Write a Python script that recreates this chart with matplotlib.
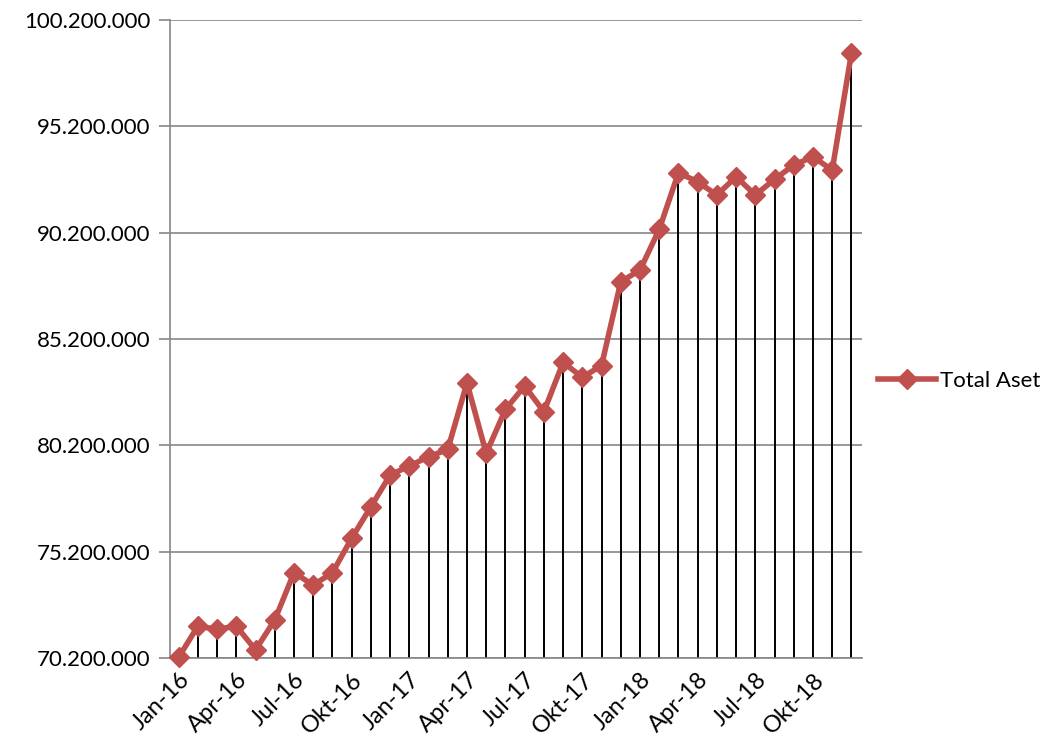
import numpy as np
import matplotlib.pyplot as plt

plt.rcParams['font.family'] = ['Lato', 'DejaVu Sans']

# monthly total assets, Jan-16 .. Dec-18 (in rupiah)
months = ['Jan-16', 'Feb-16', 'Mar-16', 'Apr-16', 'Mei-16', 'Jun-16',
          'Jul-16', 'Agu-16', 'Sep-16', 'Okt-16', 'Nov-16', 'Des-16',
          'Jan-17', 'Feb-17', 'Mar-17', 'Apr-17', 'Mei-17', 'Jun-17',
          'Jul-17', 'Agu-17', 'Sep-17', 'Okt-17', 'Nov-17', 'Des-17',
          'Jan-18', 'Feb-18', 'Mar-18', 'Apr-18', 'Mei-18', 'Jun-18',
          'Jul-18', 'Agu-18', 'Sep-18', 'Okt-18', 'Nov-18', 'Des-18']
total_aset = [70.23, 71.70, 71.55, 71.70, 70.58, 71.99,
              74.21, 73.63, 74.21, 75.83, 77.31, 78.80,
              79.23, 79.66, 80.01, 83.14, 79.82, 81.89,
              82.99, 81.78, 84.10, 83.40, 83.95, 87.89,
              88.44, 90.35, 93.02, 92.59, 91.97, 92.83,
              91.97, 92.71, 93.38, 93.77, 93.14, 98.64]
total_aset = [v * 1e6 for v in total_aset]

y_ticks = [70200000, 75200000, 80200000, 85200000, 90200000, 95200000, 100200000]
label_idx = [0, 3, 6, 9, 12, 15, 18, 21, 24, 27, 30, 33]

fig = plt.figure(figsize=(10.48, 7.45), dpi=100)
ax = fig.add_axes([170 / 1048, 87 / 745, 692 / 1048, 638 / 745])

x = np.arange(len(total_aset))
ymin = y_ticks[0]

# drop lines
ax.vlines(x, ymin, total_aset, color='black', linewidth=1.4, zorder=2)

ax.plot(x, total_aset, color='#C0504D', linewidth=4, marker='D',
        markersize=10, label='Total Aset', zorder=3, clip_on=False)

ax.set_ylim(y_ticks[0], y_ticks[-1])
ax.set_xlim(-0.45, 35.55)
ax.set_yticks(y_ticks)
ax.set_yticklabels([f'{v:,}'.replace(',', '.') for v in y_ticks], fontsize=16)
ax.yaxis.grid(True, color='#868686', linewidth=1.2)
ax.set_axisbelow(True)

ax.set_xticks(label_idx)
ax.set_xticklabels([months[i] for i in label_idx], fontsize=17,
                   rotation=45, ha='right', va='top', rotation_mode='anchor')
ax.tick_params(axis='x', length=0, pad=8)
ax.tick_params(axis='y', length=8, color='#868686', width=1.2, pad=6)

for side in ['top', 'right']:
    ax.spines[side].set_visible(False)
for side in ['left', 'bottom']:
    ax.spines[side].set_color('#868686')
    ax.spines[side].set_linewidth(1.2)

fig.legend(loc='center left', bbox_to_anchor=(858 / 1048, 1 - 381 / 745),
           frameon=False, fontsize=16, handlelength=2.6, handletextpad=0.2)

plt.savefig('out.png', dpi=100)
